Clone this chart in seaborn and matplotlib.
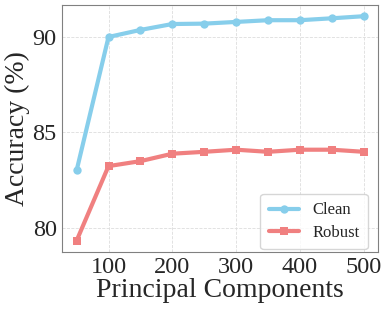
import pandas as pd
import matplotlib
matplotlib.use("Agg")
import matplotlib.pyplot as plt
import seaborn as sns

components = [50, 100, 150, 200, 250, 300, 350, 400, 450, 500]
clean_acc = [83.0, 90.0, 90.37, 90.68, 90.7, 90.79, 90.88, 90.88, 90.98, 91.09]
robust_acc = [79.32, 83.23, 83.49, 83.88, 83.98, 84.09, 83.98, 84.09, 84.09, 83.98]

df = pd.DataFrame({
    "Principal Components": components * 2,
    "Accuracy": clean_acc + robust_acc,
    "Setting": ["Clean"] * len(components) + ["Robust"] * len(components),
})

sns.set_style("whitegrid", {"grid.linestyle": "--", "grid.color": "#dddddd",
                            "axes.edgecolor": "#808080"})
plt.rcParams["font.family"] = ["Liberation Serif", "DejaVu Serif"]

fig, ax = plt.subplots(figsize=(3.89, 3.11), dpi=100)
sns.lineplot(data=df, x="Principal Components", y="Accuracy", hue="Setting",
             style="Setting", markers={"Clean": "o", "Robust": "s"}, dashes=False,
             palette={"Clean": "#87CEEB", "Robust": "#F08080"},
             linewidth=3, markersize=6, markeredgewidth=0, ax=ax)

ax.set_xticks([100, 200, 300, 400, 500])
ax.set_yticks([80, 85, 90])
ax.tick_params(axis="both", labelsize=17.5, length=2, width=0.8, color="#606060", pad=2)
ax.set_xlabel("Principal Components", fontsize=20, labelpad=0)
ax.set_ylabel("Accuracy (%)", fontsize=20, labelpad=2)
ax.grid(True, linewidth=0.6)
ax.legend(title=None, loc="lower right", bbox_to_anchor=(0.975, 0.0), fontsize=12,
          frameon=True, borderpad=0.5, labelspacing=0.4, handlelength=1.8,
          borderaxespad=0.15)

fig.subplots_adjust(left=0.16, right=0.972, top=0.984, bottom=0.19)
fig.savefig("out.png", dpi=100)
